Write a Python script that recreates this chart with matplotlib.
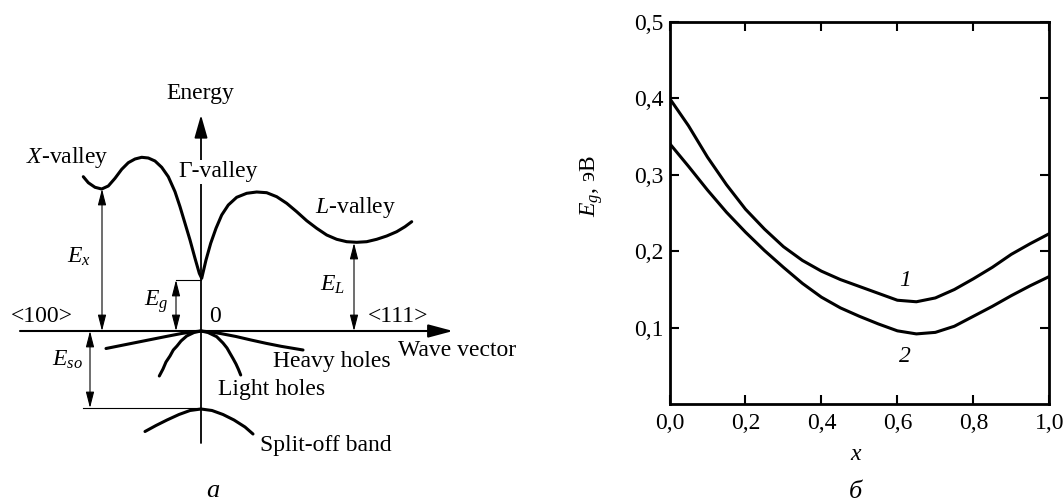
import numpy as np
import matplotlib
matplotlib.use('Agg')
import matplotlib.pyplot as plt

plt.rcParams['font.family'] = ['Liberation Serif', 'DejaVu Serif']
plt.rcParams['mathtext.fontset'] = 'custom'
plt.rcParams['mathtext.rm'] = 'Liberation Serif'
plt.rcParams['mathtext.it'] = 'Liberation Serif:italic'

# ---- panel a: band diagram (k = wave vector, E = energy, arbitrary units)
cb_k = [-117.7, -112.7, -106, -99.3, -92.7, -86, -79.3, -72.7, -66, -59.3, -52.7, -46,
        -39.3, -32.7, -26, -21, -16, -11, -6, -1.7, 0.7, 5, 9.7, 15, 20.7, 27.3, 35.7,
        45.7, 55.7, 65.7, 75.7, 85.7, 95.7, 105.7, 115.7, 125.7, 135.7, 145.7, 155.7,
        165.7, 175.7, 185.7, 195.7, 204, 210.7]
cb_E = [154.3, 148.3, 143.7, 142, 145, 152.7, 161.7, 168.3, 172, 173.7, 173, 170,
        163.7, 154.3, 139.3, 124.3, 107.7, 91, 72.7, 57.7, 52.7, 71, 87.7, 102.7, 116, 126, 133.7,
        137.7, 139, 138.3, 134.3, 127.7, 119.3, 110.3, 102.7, 96, 91.7, 89.3, 88.7,
        89.3, 91.7, 95, 99.3, 104.3, 109.3]

hh_k = [-95, -80, -65, -50, -35, -20, -10, 0, 10, 20, 35, 50, 65, 80, 102]
hh_E = [-17.5, -14.5, -11.5, -8.5, -5.5, -2.6, -1, 0, -1, -2.6, -5.5, -9, -12.3, -15.3, -19]

lh_k = [-41.7, -38, -35, -31, -27.7, -24, -20, -14.3, -7, 0, 7, 15.7, 22, 26, 29, 32, 35, 37.5, 39.7]
lh_E = [-45, -38, -31, -25, -19, -15, -10, -5, -1.5, 0, -1.5, -5.7, -12, -17, -22.3, -27.5, -33, -38.5, -44]

so_k = [-56, -45, -34, -22, -11, 0, 11, 22, 33, 44, 52]
so_E = [-100.5, -94.5, -89, -83.5, -79.5, -78, -79.5, -83.5, -89, -96, -103]

E_X = 142      # X-valley minimum
E_G = 51       # Gamma-valley minimum
E_Lv = 88      # L-valley minimum
E_SO = -77     # split-off top
k_X, k_L = -99, 153

# ---- panel б: Eg(x)
x_comp = [0, 0.05, 0.1, 0.15, 0.2, 0.25, 0.3, 0.35, 0.4, 0.45, 0.5,
          0.55, 0.6, 0.65, 0.7, 0.75, 0.8, 0.85, 0.9, 0.95, 1.0]
eg_1 = [0.400, 0.364, 0.323, 0.287, 0.255, 0.229, 0.206, 0.188, 0.174, 0.163, 0.154,
        0.145, 0.136, 0.134, 0.139, 0.150, 0.164, 0.179, 0.196, 0.210, 0.223]
eg_2 = [0.341, 0.311, 0.280, 0.251, 0.225, 0.201, 0.179, 0.158, 0.140, 0.126, 0.115,
        0.105, 0.096, 0.092, 0.094, 0.102, 0.115, 0.128, 0.142, 0.155, 0.167]
x_ticks = [0.0, 0.2, 0.4, 0.6, 0.8, 1.0]
x_labels = ['0,0', '0,2', '0,4', '0,6', '0,8', '1,0']
y_ticks = [0.1, 0.2, 0.3, 0.4, 0.5]
y_labels = ['0,1', '0,2', '0,3', '0,4', '0,5']

fs = 17
fig = plt.figure(figsize=(10.63, 5.03), dpi=100)

# ---------------- left panel
ax0 = fig.add_axes([0, 0, 500 / 1063, 1])
ax0.set_xlim(-201, 299)
ax0.set_ylim(-172, 331)
ax0.axis('off')

lw_band = 2.2
for kk, ee in [(cb_k, cb_E), (hh_k, hh_E), (lh_k, lh_E), (so_k, so_E)]:
    ax0.plot(kk, ee, color='k', lw=lw_band, solid_capstyle='round', solid_joinstyle='round')

# axes with arrows
ax0.annotate('', xy=(252, 0), xytext=(-181, 0),
             arrowprops=dict(arrowstyle='-|>,head_length=0.75,head_width=0.2', lw=1.5,
                             color='k', mutation_scale=20, shrinkA=0, shrinkB=0))
ax0.annotate('', xy=(0, 216), xytext=(0, -112),
             arrowprops=dict(arrowstyle='-|>,head_length=0.7,head_width=0.2', lw=1.3,
                             color='k', mutation_scale=20, shrinkA=0, shrinkB=0))

# guide lines
ax0.plot([-25, 0], [E_G, E_G], color='k', lw=0.8)
ax0.plot([-118, 0], [E_SO, E_SO], color='k', lw=0.8)

dim = dict(arrowstyle='<|-|>,head_length=0.7,head_width=0.18', lw=0.8, color='k',
           mutation_scale=14, shrinkA=0, shrinkB=0)
ax0.annotate('', xy=(k_X, E_X), xytext=(k_X, 0), arrowprops=dim)
ax0.annotate('', xy=(-25, E_G), xytext=(-25, 0), arrowprops=dim)
ax0.annotate('', xy=(k_L, E_Lv), xytext=(k_L, 0), arrowprops=dim)
ax0.annotate('', xy=(-111, E_SO), xytext=(-111, 0), arrowprops=dim)

ax0.text(-1, 238, 'Energy', fontsize=fs, ha='center', va='center')
ax0.text(-175, 174, '$X$-valley', fontsize=fs, ha='left', va='center')
ax0.text(-23, 159, 'Γ-valley', fontsize=fs, ha='left', va='center',
         bbox=dict(facecolor='white', edgecolor='none', pad=1))
ax0.text(114, 124, '$L$-valley', fontsize=fs, ha='left', va='center')
ax0.text(-122, 74, '$E_x$', fontsize=fs, ha='center', va='center')
ax0.text(-45, 29, '$E_g$', fontsize=fs, ha='center', va='center')
ax0.text(132, 46, '$E_L$', fontsize=fs, ha='center', va='center')
ax0.text(-134, -29, '$E_{so}$', fontsize=fs, ha='center', va='center')
ax0.text(-159, 15, '<100>', fontsize=fs, ha='center', va='center')
ax0.text(14, 15, '0', fontsize=fs, ha='center', va='center')
ax0.text(197, 15, '<111>', fontsize=fs, ha='center', va='center')
ax0.text(197, -19, 'Wave vector', fontsize=fs, ha='left', va='center')
ax0.text(72, -31, 'Heavy holes', fontsize=fs, ha='left', va='center')
ax0.text(17, -59, 'Light holes', fontsize=fs, ha='left', va='center')
ax0.text(59, -114, 'Split-off band', fontsize=fs, ha='left', va='center')
ax0.text(12, -160, 'a', fontsize=fs + 2, style='italic', ha='center', va='center')

# ---------------- right panel
ax = fig.add_axes([669.5 / 1063, (503 - 404.3) / 503, 379.8 / 1063, 382.6 / 503])
ax.plot(x_comp, eg_1, color='k', lw=2.2, solid_joinstyle='round')
ax.plot(x_comp, eg_2, color='k', lw=2.2, solid_joinstyle='round')
ax.set_xlim(0, 1.0)
ax.set_ylim(0, 0.5)
ax.set_xticks(x_ticks)
ax.set_xticklabels(x_labels)
ax.set_yticks(y_ticks)
ax.set_yticklabels(y_labels)
ax.tick_params(direction='in', length=6.5, width=1.5, top=True, right=True,
               labelsize=fs)
ax.tick_params(axis='x', pad=6)
ax.tick_params(axis='y', pad=4)
for sp in ax.spines.values():
    sp.set_linewidth(2)

ax.text(0.62, 0.162, '1', fontsize=fs, style='italic', ha='center', va='center')
ax.text(0.62, 0.062, '2', fontsize=fs, style='italic', ha='center', va='center')
ax.set_ylabel('$E_g$, эВ', fontsize=fs)
ax.yaxis.set_label_coords(-0.17, 0.571)
ax.text(0.49, -0.1325, 'x', fontsize=fs, style='italic', ha='center', va='center',
        transform=ax.transAxes)
ax.text(0.49, -0.229, 'б', fontsize=fs + 2, style='italic', ha='center', va='center',
        transform=ax.transAxes)

fig.savefig('out.png', dpi=100)
